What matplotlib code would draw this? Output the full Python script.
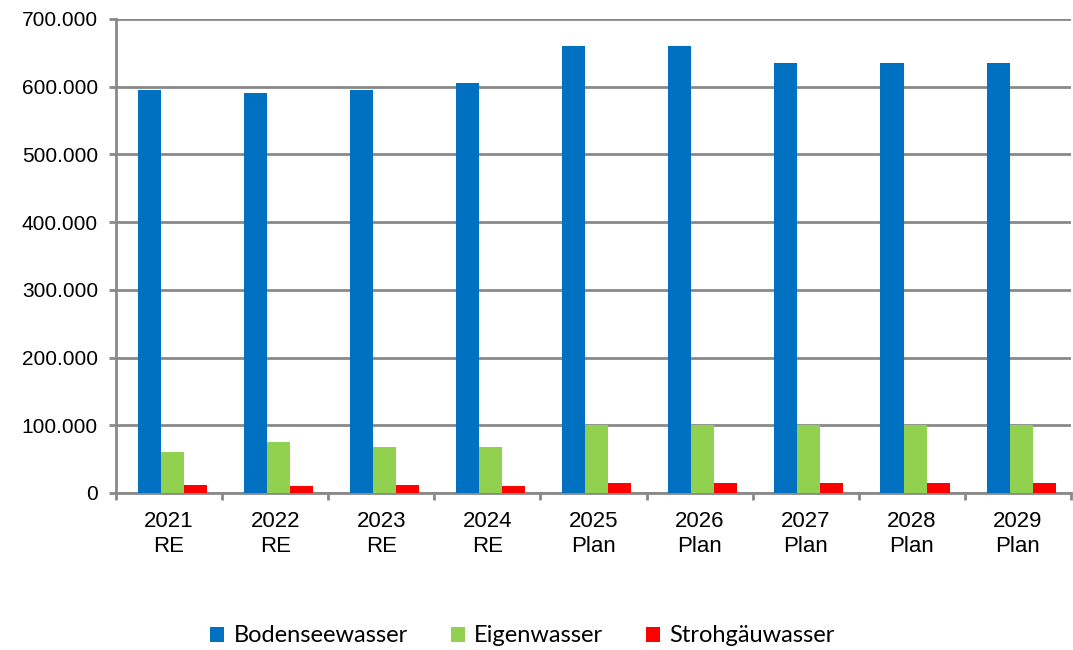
import numpy as np
import matplotlib.pyplot as plt

# data
labels = ["2021\nRE", "2022\nRE", "2023\nRE", "2024\nRE", "2025\nPlan",
          "2026\nPlan", "2027\nPlan", "2028\nPlan", "2029\nPlan"]
bodensee = [595000, 590000, 595000, 605000, 660000, 660000, 635000, 635000, 635000]
eigen = [61000, 75500, 68500, 67500, 100000, 100000, 100000, 100000, 100000]
strohgaeu = [12000, 10500, 12000, 10500, 15000, 15000, 15000, 15000, 15000]

series_names = ["Bodenseewasser", "Eigenwasser", "Strohgäuwasser"]
colors = ["#0070C0", "#92D050", "#FF0000"]

plt.rcParams['font.family'] = ['Liberation Sans', 'DejaVu Sans']

fig = plt.figure(figsize=(10.73, 6.5), dpi=100)
ax = fig.add_axes([116 / 1073, 1 - 493 / 650, (1071 - 116) / 1073, (493 - 19) / 650])

x = np.arange(len(labels))
w = 0.217
for i, (vals, name, c) in enumerate(zip([bodensee, eigen, strohgaeu], series_names, colors)):
    ax.bar(x + (i - 1) * w + 0.03, vals, width=w, color=c, label=name, zorder=3)

grid_c = "#898989"
ax.set_ylim(0, 700000)
ax.set_yticks(np.arange(0, 700001, 100000))
ax.set_yticklabels([f"{v:,}".replace(",", ".") for v in range(0, 700001, 100000)], fontsize=15)
ax.yaxis.grid(True, color=grid_c, linewidth=2, zorder=0)
ax.tick_params(axis='y', length=5, width=2, color=grid_c, pad=8)

ax.set_xlim(-0.5, len(labels) - 0.5)
ax.set_xticks(x)
ax.set_xticklabels(labels, fontsize=16, linespacing=1.25)
ax.tick_params(axis='x', length=0, pad=13)
ax.set_xticks(np.arange(-0.5, len(labels), 1), minor=True)
ax.tick_params(axis='x', which='minor', length=5, width=2, color=grid_c)

for s in ['top', 'right']:
    ax.spines[s].set_visible(False)
for s in ['left', 'bottom']:
    ax.spines[s].set_color(grid_c)
    ax.spines[s].set_linewidth(2)

fig.legend(loc='center', bbox_to_anchor=(0.487, 1 - 636 / 650), ncol=3, frameon=False,
           prop={'family': 'Lato', 'size': 17}, handlelength=0.6, handleheight=0.6,
           handletextpad=0.4, columnspacing=1.8)

fig.savefig("out.png", dpi=100)
